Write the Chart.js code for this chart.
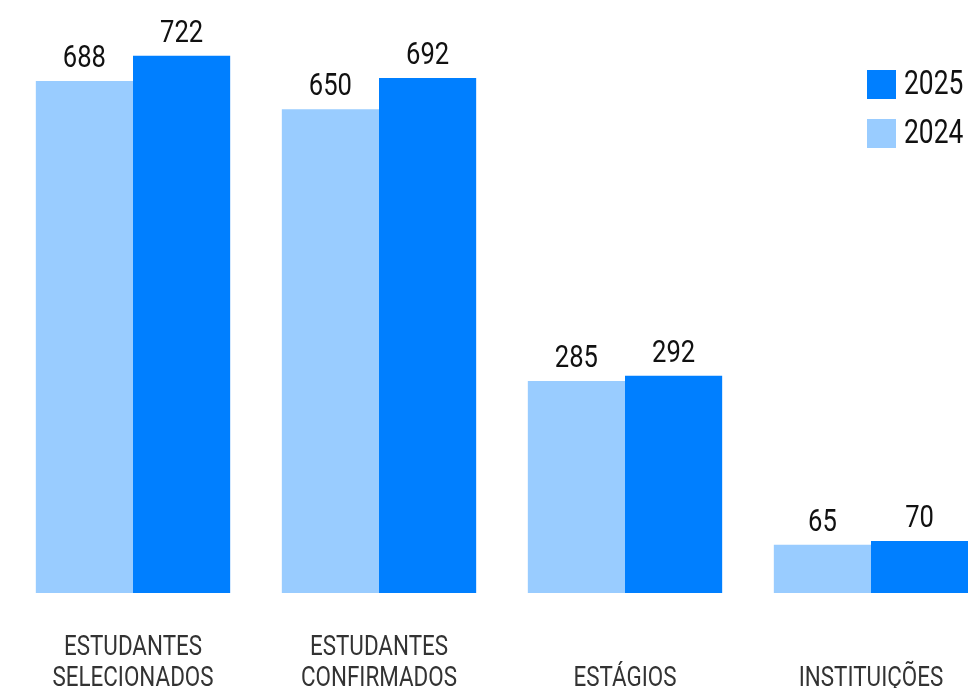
<!DOCTYPE html>
<html>
<head>
<meta charset="utf-8">
<script src="https://cdn.jsdelivr.net/npm/chart.js@4"></script>
<style>
  html, body { margin: 0; padding: 0; background: #fff; overflow: hidden; }
  #wrap { width: 968px; height: 688px; overflow: hidden; position: relative; }
  #box { position: absolute; left: 10px; top: 0; width: 984px; height: 688px; }
</style>
</head>
<body>
<div id="wrap"><div id="box"><canvas id="chart"></canvas></div></div>
<script>
const categories = [
    ['ESTUDANTES', 'SELECIONADOS'],
    ['ESTUDANTES', 'CONFIRMADOS'],
    ['ESTÁGIOS'],
    ['INSTITUIÇÕES']
]
const values2024 = [688, 650, 285, 65]
const values2025 = [722, 692, 292, 70]
const seriesNames = ['2024', '2025']

const FONT = "Roboto, sans-serif"
const SQUEEZE = 0.8   // fake a condensed face

function condensedText(ctx, text, x, y, align) {
    const w = ctx.measureText(text).width * SQUEEZE
    let left = x
    if (align === 'center') left = x - w / 2
    else if (align === 'right') left = x - w
    ctx.save()
    ctx.translate(left, y)
    ctx.scale(SQUEEZE, 1)
    ctx.textAlign = 'left'
    ctx.fillText(text, 0, 0)
    ctx.restore()
}

// value labels above each bar + category labels under the groups
const textLayer = {
    id: 'textLayer',
    afterDatasetsDraw(chart) {
        const ctx = chart.ctx
        ctx.save()
        ctx.font = '32px ' + FONT
        ctx.fillStyle = '#111'
        ctx.textBaseline = 'alphabetic'
        chart.data.datasets.forEach((ds, i) => {
            chart.getDatasetMeta(i).data.forEach((bar, j) => {
                condensedText(ctx, String(ds.data[j]), bar.x, bar.y - 14, 'center')
            })
        })

        ctx.font = '28px ' + FONT
        ctx.fillStyle = '#333'
        ctx.textBaseline = 'middle'
        const xs = chart.scales.x
        const bottom = chart.chartArea.bottom
        chart.data.labels.forEach((lab, j) => {
            const x = xs.getPixelForValue(j)
            const lines = Array.isArray(lab) ? lab : [lab]
            const start = bottom + 55 + (2 - lines.length) * 31
            lines.forEach((line, k) => condensedText(ctx, line, x, start + k * 31, 'center'))
        })
        ctx.restore()
    }
}

// legend in the top right corner, 2025 first
const cornerLegend = {
    id: 'cornerLegend',
    afterDraw(chart) {
        const ctx = chart.ctx
        ctx.save()
        ctx.font = '33px ' + FONT
        ctx.textBaseline = 'middle'
        const order = [1, 0]
        order.forEach((i, k) => {
            const ds = chart.data.datasets[i]
            const y = 70 + k * 49
            ctx.fillStyle = ds.backgroundColor
            ctx.fillRect(857, y, 29, 29)
            ctx.fillStyle = '#111'
            condensedText(ctx, ds.label, 894, y + 16, 'left')
        })
        ctx.restore()
    }
}

new Chart(document.getElementById('chart').getContext('2d'), {
    type: 'bar',
    data: {
        labels: categories,
        datasets: [
            { label: seriesNames[0], data: values2024, backgroundColor: '#99ccff' },
            { label: seriesNames[1], data: values2025, backgroundColor: '#007fff' }
        ]
    },
    options: {
        responsive: true,
        maintainAspectRatio: false,
        animation: false,
        layout: { padding: { top: 0, left: 0, right: 0, bottom: 95 } },
        plugins: { legend: { display: false }, tooltip: { enabled: false } },
        datasets: { bar: { categoryPercentage: 0.79, barPercentage: 1 } },
        scales: {
            x: { display: false },
            y: { display: false, min: 0, max: 797 }
        }
    },
    plugins: [textLayer, cornerLegend]
})
</script>
</body>
</html>
